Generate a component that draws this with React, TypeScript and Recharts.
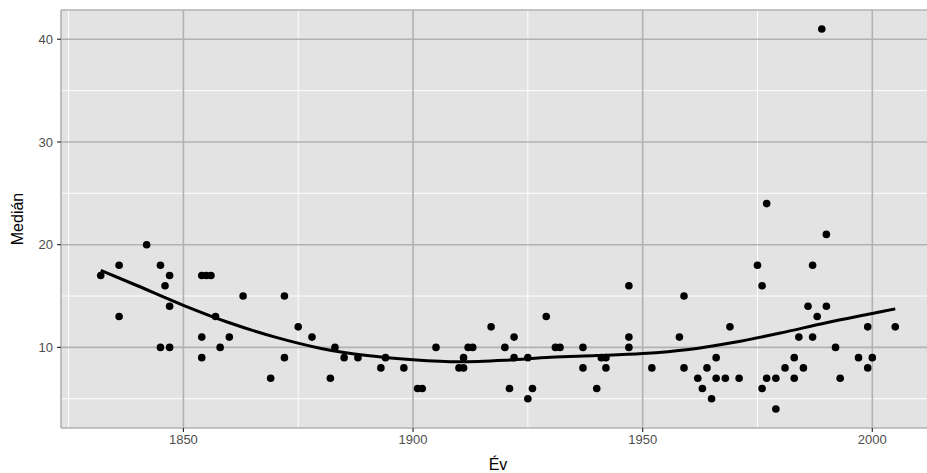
import {
  ComposedChart,
  Scatter,
  Line,
  XAxis,
  YAxis,
  CartesianGrid,
} from "recharts";

// yearly medians
const years = [
  1832, 1836, 1836, 1842, 1845, 1845, 1846, 1847, 1847, 1847,
  1854, 1854, 1854, 1855, 1856, 1857, 1858, 1860, 1863, 1869,
  1872, 1872, 1875, 1878, 1882, 1883, 1885, 1888, 1893, 1894,
  1898, 1901, 1902, 1905, 1910, 1911, 1911, 1912, 1913,
  1917, 1920, 1921, 1922, 1922, 1925, 1925, 1926, 1929, 1931,
  1932, 1937, 1937, 1940, 1941, 1942, 1942, 1947, 1947, 1947,
  1952, 1958, 1959, 1959, 1962, 1963, 1964, 1965, 1966, 1966,
  1968, 1969, 1971, 1975, 1976, 1976, 1977, 1977, 1979, 1979,
  1981, 1983, 1983, 1984, 1985, 1986, 1987, 1987, 1988, 1989,
  1990, 1990, 1992, 1993, 1997, 1999, 1999, 2000, 2005,
];
const medians = [
  17, 18, 13, 20, 18, 10, 16, 17, 14, 10,
  17, 11, 9, 17, 17, 13, 10, 11, 15, 7,
  15, 9, 12, 11, 7, 10, 9, 9, 8, 9,
  8, 6, 6, 10, 8, 8, 9, 10, 10,
  12, 10, 6, 11, 9, 9, 5, 6, 13, 10,
  10, 10, 8, 6, 9, 9, 8, 16, 11, 10,
  8, 11, 15, 8, 7, 6, 8, 5, 9, 7,
  7, 12, 7, 18, 16, 6, 24, 7, 7, 4,
  8, 9, 7, 11, 8, 14, 18, 11, 13, 41,
  21, 14, 10, 7, 9, 12, 8, 9, 12,
];

// loess smooth
const smoothYears = [1832, 1840, 1850, 1860, 1870, 1880, 1890, 1900, 1910, 1920, 1930, 1940, 1950, 1960, 1970, 1980, 1990, 2000, 2005];
const smoothValues = [17.5, 16.0, 14.1, 12.4, 11.0, 9.9, 9.2, 8.8, 8.6, 8.75, 9.05, 9.2, 9.4, 9.8, 10.5, 11.4, 12.4, 13.3, 13.75];

const xTicks = [1850, 1900, 1950, 2000];
const xMinor = [1825, 1875, 1925, 1975];
const yTicks = [10, 20, 30, 40];
const yMinor = [5, 15, 25, 35];

const points = years.map((y, i) => ({ year: y, median: medians[i] }));
const smooth = smoothYears.map((y, i) => ({ year: y, median: smoothValues[i] }));

const font = "'Liberation Sans', Arial, Helvetica, sans-serif";
const tickStyle = { fill: "#4D4D4D", fontSize: 13, fontFamily: font };

// eslint-disable-next-line @typescript-eslint/no-explicit-any
const Dot = (p: any) => <circle cx={p.cx} cy={p.cy} r={3.8} fill="#000" />;

export default function App() {
  return (
    <div
      style={{
        position: "absolute",
        left: 0,
        top: 0,
        width: 927,
        height: 473,
        overflow: "hidden",
        background: "#fff",
      }}
    >
      <ComposedChart
        width={942}
        height={473}
        margin={{ top: 10, right: 7, bottom: 0, left: 0 }}
      >
        <CartesianGrid
          fill="#E3E3E3"
          stroke="#FFFFFF"
          strokeWidth={1}
          verticalValues={xMinor}
          horizontalValues={yMinor}
        />
        <CartesianGrid stroke="#B2B2B2" strokeWidth={1.6} />
        <XAxis
          type="number"
          dataKey="year"
          domain={[1823.35, 2013.65]}
          ticks={xTicks}
          allowDataOverflow
          height={45}
          axisLine={false}
          tickSize={4}
          tickMargin={3}
          tickLine={{ stroke: "#333333", strokeWidth: 1.2 }}
          tick={tickStyle}
          label={{
            value: "Év",
            position: "insideBottom",
            offset: 3,
            style: { fill: "#000", fontSize: 16, fontFamily: font },
          }}
        />
        <YAxis
          type="number"
          domain={[2.15, 42.85]}
          ticks={yTicks}
          allowDataOverflow
          width={61}
          axisLine={false}
          tickSize={4}
          tickMargin={4}
          tickLine={{ stroke: "#333333", strokeWidth: 1.2 }}
          tick={tickStyle}
          label={{
            value: "Medián",
            angle: -90,
            position: "insideLeft",
            offset: 17,
            style: { textAnchor: "middle", fill: "#000", fontSize: 16, fontFamily: font },
          }}
        />
        <Scatter data={points} dataKey="median" shape={Dot} isAnimationActive={false} />
        <Line
          data={smooth}
          dataKey="median"
          type="monotone"
          stroke="#000"
          strokeWidth={3}
          dot={false}
          activeDot={false}
          isAnimationActive={false}
        />
      </ComposedChart>
    </div>
  );
}
